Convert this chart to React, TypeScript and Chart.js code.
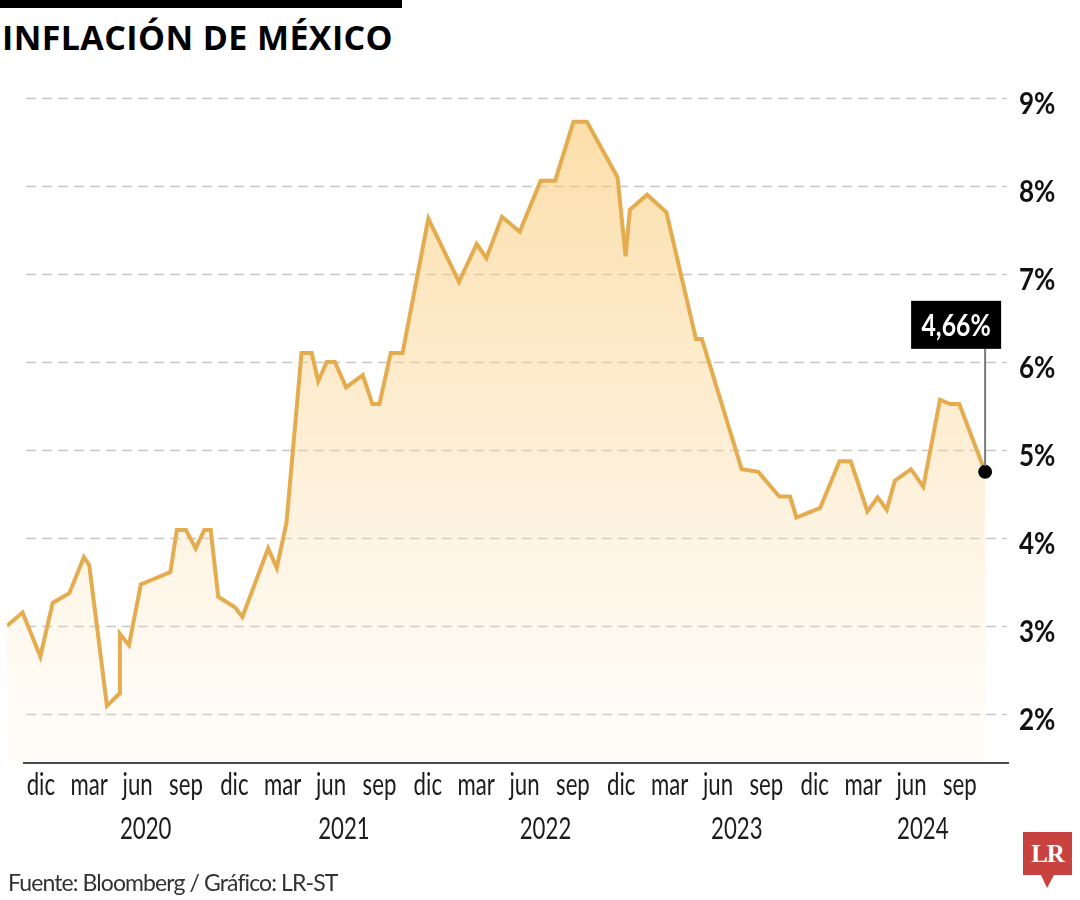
import React, { useEffect, useRef } from "react";
import { Chart, registerables } from "chart.js";

Chart.register(...registerables);

// ---- Datos ----
const fechas: string[] = [
  "2019-10-13", "2019-11-12", "2019-12-15", "2020-01-08", "2020-02-09", "2020-03-06",
  "2020-03-16", "2020-04-19", "2020-05-12", "2020-05-13", "2020-05-30", "2020-06-22",
  "2020-08-17", "2020-08-29", "2020-09-16", "2020-10-04", "2020-10-20", "2020-11-02",
  "2020-11-16", "2020-12-17", "2021-01-01", "2021-02-19", "2021-03-05", "2021-03-23",
  "2021-04-21", "2021-05-10", "2021-05-22", "2021-06-08", "2021-06-23", "2021-07-14",
  "2021-08-15", "2021-09-03", "2021-09-16", "2021-10-07", "2021-10-29", "2021-12-17",
  "2022-02-14", "2022-03-17", "2022-04-05", "2022-05-04", "2022-06-07", "2022-07-16",
  "2022-08-13", "2022-09-17", "2022-10-12", "2022-12-09", "2022-12-24", "2023-01-02",
  "2023-02-04", "2023-03-10", "2023-05-05", "2023-05-16", "2023-07-30", "2023-08-31",
  "2023-10-10", "2023-10-30", "2023-11-12", "2023-12-26", "2024-02-02", "2024-02-23",
  "2024-03-24", "2024-04-13", "2024-04-30", "2024-05-15", "2024-06-15", "2024-07-08",
  "2024-08-09", "2024-08-28", "2024-09-15", "2024-11-03",
];

const inflacion: number[] = [
  3.0, 3.15, 2.65, 3.26, 3.37, 3.78,
  3.69, 2.09, 2.23, 2.91, 2.78, 3.47,
  3.61, 4.09, 4.09, 3.88, 4.09, 4.09,
  3.33, 3.21, 3.1, 3.88, 3.66, 4.17,
  6.1, 6.1, 5.78, 6.0, 6.0, 5.71,
  5.85, 5.52, 5.52, 6.1, 6.1, 7.63,
  6.91, 7.34, 7.18, 7.65, 7.48, 8.06,
  8.06, 8.73, 8.73, 8.1, 7.2, 7.73,
  7.9, 7.7, 6.26, 6.26, 4.78, 4.75,
  4.47, 4.47, 4.23, 4.34, 4.87, 4.87,
  4.3, 4.46, 4.32, 4.65, 4.78, 4.58,
  5.57, 5.52, 5.52, 4.75,
];

const mesesFechas: string[] = [
  "2019-12-16", "2020-03-16", "2020-06-16", "2020-09-16", "2020-12-16",
  "2021-03-16", "2021-06-16", "2021-09-16", "2021-12-16", "2022-03-16",
  "2022-06-16", "2022-09-16", "2022-12-16", "2023-03-16", "2023-06-16",
  "2023-09-16", "2023-12-16", "2024-03-16", "2024-06-16", "2024-09-16",
];
const mesesEtiquetas: string[] = [
  "dic", "mar", "jun", "sep", "dic", "mar", "jun", "sep", "dic", "mar",
  "jun", "sep", "dic", "mar", "jun", "sep", "dic", "mar", "jun", "sep",
];
const aniosFechas: string[] = ["2020-07-01", "2021-07-10", "2022-07-25", "2023-07-21", "2024-07-07"];
const aniosEtiquetas: string[] = ["2020", "2021", "2022", "2023", "2024"];
const yTicks: number[] = [2, 3, 4, 5, 6, 7, 8, 9];
const ultimoDato = "4,66%";
const xFin = "2024-12-10";

const toM = (s: string) => {
  const [y, m, d] = s.split("-").map(Number);
  return (y - 2019) * 12 + (m - 10) + (d - 1) / 30;
};

const FONT = "Lato, 'Noto Sans', sans-serif";
const LINE = "#e5ac4f";

function textScaled(ctx: CanvasRenderingContext2D, t: string, x: number, y: number, sx: number, align: CanvasTextAlign) {
  ctx.save();
  ctx.translate(x, y);
  ctx.scale(sx, 1);
  ctx.textAlign = align;
  ctx.textBaseline = "alphabetic";
  ctx.fillText(t, 0, 0);
  ctx.restore();
}

export default function App() {
  const ref = useRef<HTMLCanvasElement>(null);

  useEffect(() => {
    if (!ref.current) return;
    const pts = fechas.map((f, i) => ({ x: toM(f), y: inflacion[i] }));
    const radii = pts.map((_, i) => (i === pts.length - 1 ? 7 : 0));
    const mTicks = mesesFechas.map(toM);
    const aTicks = aniosFechas.map(toM);

    const decor = {
      id: "decor",
      beforeDatasetsDraw(chart: any) {
        const { ctx, chartArea, scales } = chart;
        ctx.save();
        ctx.strokeStyle = "#c6c6c9";
        ctx.lineWidth = 1.5;
        ctx.setLineDash([10, 6]);
        yTicks.forEach((v) => {
          const y = Math.round(scales.y.getPixelForValue(v)) + 0.5;
          ctx.beginPath();
          ctx.moveTo(chartArea.left + 19, y);
          ctx.lineTo(chartArea.right + 2, y);
          ctx.stroke();
        });
        ctx.restore();
      },
      afterDatasetsDraw(chart: any) {
        const { ctx, chartArea, scales } = chart;
        ctx.save();
        // eje x
        ctx.strokeStyle = "#4a4a4a";
        ctx.lineWidth = 2;
        ctx.beginPath();
        ctx.moveTo(chartArea.left + 16, chartArea.bottom);
        ctx.lineTo(chartArea.right + 4, chartArea.bottom);
        ctx.stroke();

        // etiquetas de meses y años
        ctx.fillStyle = "#1c1c1c";
        ctx.font = `400 30px ${FONT}`;
        mTicks.forEach((v, i) => {
          textScaled(ctx, mesesEtiquetas[i], scales.x.getPixelForValue(v), chartArea.bottom + 32, 0.74, "center");
        });
        aTicks.forEach((v, i) => {
          textScaled(ctx, aniosEtiquetas[i], scales.x.getPixelForValue(v), chartArea.bottom + 76, 0.74, "center");
        });
        // etiquetas eje y
        ctx.fillStyle = "#111";
        ctx.font = `700 31px ${FONT}`;
        yTicks.forEach((v) => {
          textScaled(ctx, `${v}%`, chartArea.right + 14, scales.y.getPixelForValue(v) + 16, 0.84, "left");
        });

        // anotación
        const meta = chart.getDatasetMeta(0);
        const p = meta.data[meta.data.length - 1];
        const px = p.x;
        const py = p.y;
        const boxL = px - 74;
        const boxR = px + 16;
        const boxT = py - 171;
        const boxB = py - 123;
        ctx.strokeStyle = "#7a7a7a";
        ctx.lineWidth = 2;
        ctx.beginPath();
        ctx.moveTo(px, boxB);
        ctx.lineTo(px, py - 6);
        ctx.stroke();
        ctx.fillStyle = "#000";
        ctx.fillRect(boxL, boxT, boxR - boxL, boxB - boxT);
        ctx.fillStyle = "#fff";
        ctx.font = `700 31px ${FONT}`;
        textScaled(ctx, ultimoDato, (boxL + boxR) / 2, boxB - 13, 0.8, "center");
        ctx.restore();
      },
    };

    const chart = new Chart(ref.current, {
      type: "line",
      data: {
        datasets: [
          {
            data: pts,
            xAxisID: "x",
            yAxisID: "y",
            borderColor: LINE,
            borderWidth: 4,
            tension: 0,
            fill: "start",
            backgroundColor: (c: any) => {
              const { ctx, chartArea } = c.chart;
              if (!chartArea) return "rgba(0,0,0,0)";
              const g = ctx.createLinearGradient(0, chartArea.top, 0, chartArea.bottom);
              g.addColorStop(0, "rgba(250,196,100,0.58)");
              g.addColorStop(0.5, "rgba(251,214,150,0.42)");
              g.addColorStop(1, "rgba(253,235,205,0.12)");
              return g;
            },
            pointRadius: radii,
            pointHoverRadius: radii,
            pointBackgroundColor: "#000",
            pointBorderWidth: 0,
          },
        ],
      },
      options: {
        animation: false,
        responsive: false,
        maintainAspectRatio: false,
        layout: { padding: { left: 7, top: 98, right: 0, bottom: 52 } },
        plugins: { legend: { display: false }, tooltip: { enabled: false } },
        scales: {
          x: {
            type: "linear",
            position: "bottom",
            weight: 0,
            min: toM(fechas[0]),
            max: toM(xFin),
            grid: { display: false },
            border: { display: false },
            afterBuildTicks: (axis: any) => {
              axis.ticks = mTicks.map((v) => ({ value: v }));
            },
            afterFit: (axis: any) => {
              axis.height = 44;
            },
            ticks: { display: false },
          },
          xAnio: {
            type: "linear",
            position: "bottom",
            weight: 1,
            min: toM(fechas[0]),
            max: toM(xFin),
            grid: { display: false },
            border: { display: false },
            afterBuildTicks: (axis: any) => {
              axis.ticks = aTicks.map((v) => ({ value: v }));
            },
            afterFit: (axis: any) => {
              axis.height = 41;
            },
            ticks: { display: false },
          },
          y: {
            type: "linear",
            position: "right",
            min: 1.44,
            max: 9,
            grid: { display: false },
            border: { display: false },
            afterBuildTicks: (axis: any) => {
              axis.ticks = yTicks.map((v) => ({ value: v }));
            },
            afterFit: (axis: any) => {
              axis.width = 75;
            },
            ticks: { display: false },
          },
        },
      },
      plugins: [decor],
    } as any);
    return () => chart.destroy();
  }, []);

  return (
    <div
      style={{
        position: "absolute",
        left: 0,
        top: 0,
        width: 1080,
        height: 900,
        background: "#fff",
        overflow: "hidden",
      }}
    >
      <div style={{ position: "absolute", left: 0, top: 0, width: 402, height: 8, background: "#000" }} />
      <div
        style={{
          position: "absolute",
          left: 2,
          top: 20,
          fontFamily: "'Open Sans', sans-serif",
          fontWeight: 700,
          fontSize: 34,
          lineHeight: "34px",
          letterSpacing: 0.4,
          color: "#000",
          whiteSpace: "nowrap",
        }}
      >
        INFLACIÓN DE MÉXICO
      </div>
      <canvas
        ref={ref}
        width={1080}
        height={900}
        style={{ position: "absolute", left: 0, top: 0, width: 1080, height: 900 }}
      />
      <div
        style={{
          position: "absolute",
          left: 8,
          top: 871,
          fontFamily: "Lato, sans-serif",
          fontSize: 23,
          lineHeight: "23px",
          letterSpacing: -0.9,
          color: "#333",
          whiteSpace: "nowrap",
        }}
      >
        Fuente: Bloomberg / Gráfico: LR-ST
      </div>
      <div
        style={{
          position: "absolute",
          left: 1023,
          top: 832,
          width: 49,
          height: 43,
          background: "#c8433f",
          color: "#fff",
          fontFamily: "'Liberation Serif', 'DejaVu Serif', serif",
          fontWeight: 700,
          fontSize: 25,
          lineHeight: "43px",
          textAlign: "center",
          letterSpacing: -1,
        }}
      >
        LR
      </div>
      <div
        style={{
          position: "absolute",
          left: 1041,
          top: 875,
          width: 0,
          height: 0,
          borderLeft: "6px solid transparent",
          borderRight: "7px solid transparent",
          borderTop: "13px solid #c8433f",
        }}
      />
    </div>
  );
}
